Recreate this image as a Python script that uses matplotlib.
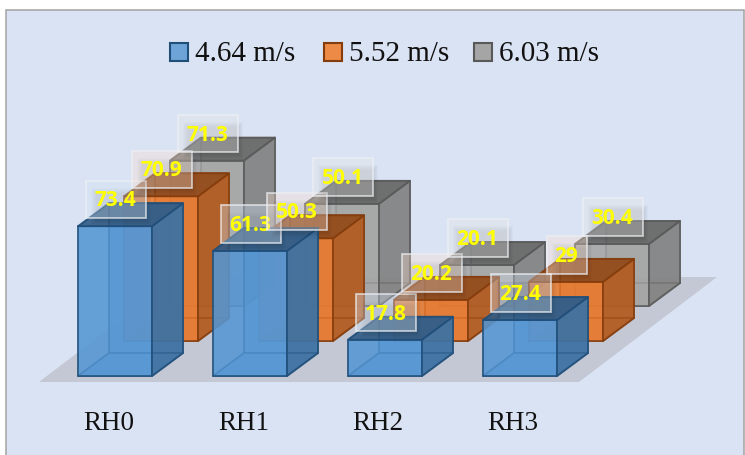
import matplotlib
matplotlib.use('Agg')
import matplotlib.pyplot as plt
from matplotlib.patches import Polygon, Rectangle

# data
categories = ["RH0", "RH1", "RH2", "RH3"]
speeds = ["4.64 m/s", "5.52 m/s", "6.03 m/s"]
v464 = [73.4, 61.3, 17.8, 27.4]
v552 = [70.9, 50.3, 20.2, 29]
v603 = [71.3, 50.1, 20.1, 30.4]
series = [v464, v552, v603]

front_col = ['#5596d3', '#e67a30', '#a5a5a5']
side_col = ['#3a6a98', '#a9561f', '#7d7d7d']
top_col = ['#2f5780', '#8a4719', '#636363']
edge_col = ['#1f4e79', '#843c0c', '#595959']
box_col = ['#d4e4f5', '#fbe0cf', '#e6e6e6']
leg_col = ['#6ea3d8', '#ed8a45', '#a5a5a5']

# layout in pixels
x0, base0 = 78, 377      # front left corner of the first bar
bar_w = 74
cat_step = 135
ser_dx, ser_dy = 46, -35
dep_dx, dep_dy = 31, -23
scale = 2.04

fig = plt.figure(figsize=(7.45, 4.56), dpi=100, facecolor='white')
ax = fig.add_axes([0, 0, 1, 1])
ax.set_xlim(0, 745)
ax.set_ylim(456, 0)
ax.axis('off')

ax.add_patch(Rectangle((6, 10.5), 738, 450, fc='#dae3f3', ec='#a3a3a3', lw=1.1, zorder=0))

# floor
ax.add_patch(Polygon([(39, 383), (579, 383), (717, 278), (177, 278)], fc='#c3c8d4', ec='none', zorder=1))


def draw_bar(i, j, val):
    x = x0 + i * cat_step + j * ser_dx
    b = base0 + j * ser_dy
    t = b - val * scale
    w = bar_w
    dx, dy = dep_dx, dep_dy
    kw = dict(lw=1.3, ec=edge_col[j], joinstyle='round')
    # inside faces first, they show through the front
    ax.add_patch(Polygon([(x+dx, b+dy), (x+w+dx, b+dy), (x+w+dx, t+dy), (x+dx, t+dy)],
                         fc=front_col[j], alpha=0.75, zorder=2+(2-j)*3, **kw))
    ax.add_patch(Polygon([(x, b), (x+dx, b+dy), (x+dx, t+dy), (x, t)],
                         fc=front_col[j], alpha=0.4, zorder=2+(2-j)*3, **kw))
    ax.add_patch(Polygon([(x, b), (x+w, b), (x+w+dx, b+dy), (x+dx, b+dy)],
                         fc=front_col[j], alpha=0.75, zorder=2+(2-j)*3, **kw))
    # outer faces
    z = 3 + (2 - j) * 3
    ax.add_patch(Polygon([(x, b), (x+w, b), (x+w, t), (x, t)], fc=front_col[j], alpha=0.8, zorder=z, **kw))
    ax.add_patch(Polygon([(x+w, b), (x+w+dx, b+dy), (x+w+dx, t+dy), (x+w, t)], fc=side_col[j], alpha=0.78, zorder=z, **kw))
    ax.add_patch(Polygon([(x, t), (x+w, t), (x+w+dx, t+dy), (x+dx, t+dy)], fc=top_col[j], alpha=0.85, zorder=z, **kw))


def draw_label(i, j, val):
    txt = str(val)
    cx = x0 + i * cat_step + j * ser_dx + bar_w / 2 + 0.5
    cy = base0 + j * ser_dy - val * scale - 27
    w = 10 * len(txt) + 20
    h = 37.5
    z = 20 + j
    # soft shadow
    for k in range(6):
        ax.add_patch(Rectangle((cx-w/2+5+k, cy-h/2+7+k), w-2*k, h-2*k, fc='black', ec='none', alpha=0.02, zorder=z))
    ax.add_patch(Rectangle((cx-w/2, cy-h/2), w, h, fc=box_col[j], ec='none', alpha=0.35, zorder=z))
    ax.add_patch(Rectangle((cx-w/2, cy-h/2), w, h, fc='none', ec='#eef0f4', alpha=0.7, lw=1.3, zorder=z))
    ax.text(cx, cy + 0.5, txt, color='#ffff00', family='Open Sans', weight='bold', fontsize=15,
            ha='center', va='center', zorder=z+0.5)


for j, vals in enumerate(series):
    for i, v in enumerate(vals):
        draw_bar(i, j, v)
for j, vals in enumerate(series):
    for i, v in enumerate(vals):
        draw_label(i, j, v)

# category labels
for i, c in enumerate(categories):
    ax.text(109 + i * (cat_step - 0.5), 424, c, family='Liberation Serif', fontsize=19.5,
            color='#111111', ha='center', va='center')

# legend
leg_x = [170, 324, 474]
for k, name in enumerate(speeds):
    ax.add_patch(Rectangle((leg_x[k], 44), 18, 18, fc=leg_col[k], ec=edge_col[k], lw=1.5, zorder=3))
    ax.text(leg_x[k] + 25, 54, name, family='Liberation Serif', fontsize=21,
            color='#111111', ha='left', va='center')

fig.savefig('out.png', dpi=100)
